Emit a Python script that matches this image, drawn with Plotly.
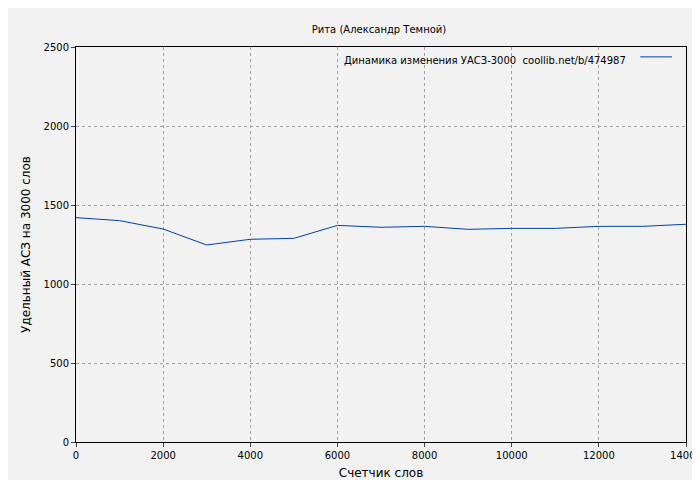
import plotly.graph_objects as go

words = [0, 1000, 2000, 3000, 4000, 5000, 6000, 7000, 8000, 9000, 10000, 11000, 12000, 13000, 14000]
uasz = [1420, 1401, 1348, 1247, 1283, 1289, 1371, 1359, 1365, 1346, 1352, 1352, 1365, 1365, 1378]
legend_text = "Динамика изменения УАСЗ-3000  coollib.net/b/474987"

font = "DejaVu Sans"
line_color = "#0040b0"

fig = go.Figure()
fig.add_trace(
    go.Scatter(x=words, y=uasz, mode="lines", line=dict(color=line_color, width=1), name=legend_text)
)
fig.update_layout(
    width=700,
    height=480,
    paper_bgcolor="#f2f2f2",
    plot_bgcolor="#f2f2f2",
    margin=dict(l=68, r=22, t=39, b=46, autoexpand=False),
    font=dict(family=font, size=10, color="#000"),
    title=dict(text="Рита (Александр Темной)", x=0.53, y=0.962, xanchor="center", font=dict(size=10)),
    showlegend=False,
)
# legend drawn by hand: text first, sample line to its right
fig.add_annotation(
    xref="paper", yref="paper", x=0.905, y=0.985, xanchor="right", yanchor="top",
    text=legend_text, showarrow=False, font=dict(size=10),
)
fig.add_shape(
    type="line", xref="paper", yref="paper", x0=0.925, x1=0.977, y0=0.975, y1=0.975,
    line=dict(color=line_color, width=1),
)
axis_common = dict(
    showgrid=True,
    gridcolor="#a0a0a0",
    griddash="dot",
    gridwidth=1,
    showline=True,
    linecolor="#000",
    linewidth=1,
    mirror=True,
    ticks="outside",
    ticklen=4,
    zeroline=False,
    automargin=False,
    tickformat="d",
)
fig.update_xaxes(range=[0, 14000], dtick=2000, title=dict(text="Счетчик слов", standoff=8), **axis_common)
fig.update_yaxes(range=[0, 2500], dtick=500, title=dict(text="Удельный АСЗ на 3000 слов", standoff=10), **axis_common)
fig.write_html("out.html")
